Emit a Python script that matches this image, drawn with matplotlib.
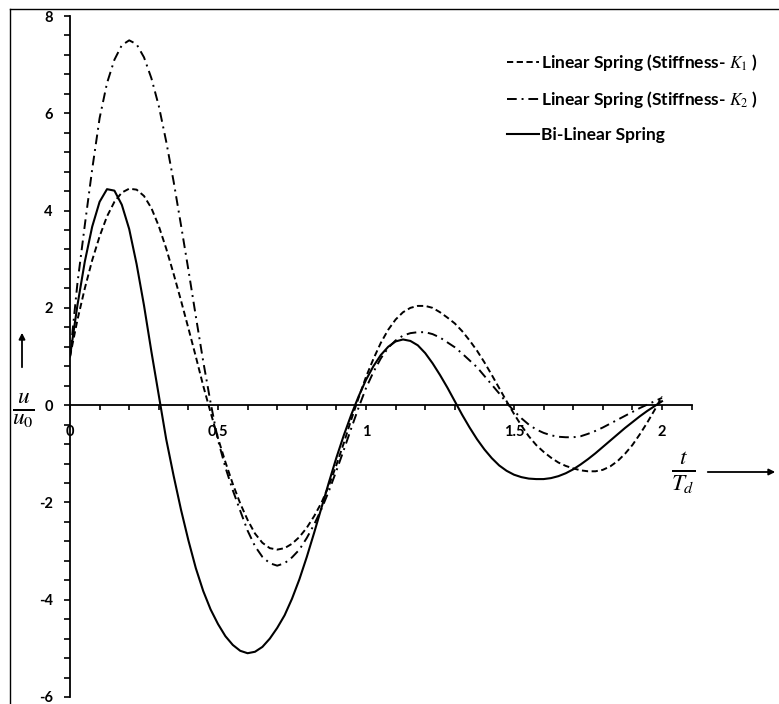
import matplotlib
matplotlib.use("Agg")
import matplotlib.pyplot as plt
from matplotlib.lines import Line2D
from matplotlib.ticker import MultipleLocator

plt.rcParams["font.family"] = ["Lato", "DejaVu Sans"]
plt.rcParams["mathtext.fontset"] = "stix"

# time ratio t/Td (0 .. 2 in steps of 0.025)
t = [round(0.025 * i, 3) for i in range(81)]

# displacement ratio u/u0
u_k1 = [1.00, 1.75, 2.40, 2.98, 3.47, 3.88, 4.18, 4.37, 4.45, 4.43,
        4.30, 4.05, 3.68, 3.22, 2.70, 2.15, 1.58, 1.00, 0.40, -0.15,
        -0.68, -1.17, -1.62, -2.02, -2.36, -2.64, -2.83, -2.94, -2.97, -2.94,
        -2.85, -2.71, -2.52, -2.28, -2.00, -1.65, -1.23, -0.78, -0.30, 0.15,
        0.58, 0.95, 1.28, 1.55, 1.76, 1.91, 2.00, 2.04, 2.04, 2.00,
        1.91, 1.80, 1.68, 1.52, 1.33, 1.12, 0.88, 0.62, 0.35, 0.08,
        -0.18, -0.42, -0.64, -0.82, -0.96, -1.08, -1.18, -1.25, -1.30, -1.34,
        -1.36, -1.36, -1.33, -1.26, -1.15, -1.00, -0.82, -0.60, -0.36, -0.10, 0.18]

u_k2 = [1.00, 2.50, 3.70, 4.85, 5.90, 6.62, 7.10, 7.40, 7.50, 7.42,
        7.15, 6.72, 6.15, 5.42, 4.60, 3.70, 2.78, 1.83, 0.90, 0.05,
        -0.72, -1.28, -1.75, -2.17, -2.58, -2.90, -3.12, -3.25, -3.30, -3.25,
        -3.13, -2.97, -2.73, -2.45, -2.13, -1.76, -1.35, -0.92, -0.48, -0.05,
        0.35, 0.68, 0.96, 1.18, 1.33, 1.43, 1.48, 1.50, 1.50, 1.46,
        1.39, 1.29, 1.19, 1.06, 0.92, 0.78, 0.60, 0.42, 0.24, 0.05,
        -0.12, -0.27, -0.40, -0.50, -0.57, -0.62, -0.65, -0.66, -0.66, -0.64,
        -0.59, -0.53, -0.46, -0.38, -0.30, -0.22, -0.14, -0.06, 0.01, 0.08, 0.15]

u_bilinear = [1.00, 2.05, 2.95, 3.67, 4.18, 4.44, 4.41, 4.12, 3.62, 2.90,
              2.05, 1.10, 0.20, -0.70, -1.45, -2.15, -2.78, -3.35, -3.82, -4.20,
              -4.50, -4.75, -4.93, -5.05, -5.10, -5.07, -4.97, -4.80, -4.58, -4.32,
              -3.98, -3.58, -3.12, -2.62, -2.10, -1.58, -1.08, -0.62, -0.20, 0.18,
              0.52, 0.80, 1.03, 1.20, 1.31, 1.35, 1.32, 1.23, 1.07, 0.86,
              0.62, 0.36, 0.08, -0.20, -0.46, -0.70, -0.91, -1.09, -1.24, -1.35,
              -1.43, -1.48, -1.51, -1.52, -1.52, -1.50, -1.46, -1.40, -1.32, -1.22,
              -1.11, -0.99, -0.86, -0.73, -0.60, -0.47, -0.35, -0.23, -0.12, -0.02, 0.08]

x_ticks = [0, 0.5, 1, 1.5, 2]
x_tick_labels = ["0", "0.5", "1", "1.5", "2"]
y_ticks = [-6, -4, -2, 0, 2, 4, 6, 8]

labels = [r"Linear Spring (Stiffness- $K_1$ )",
          r"Linear Spring (Stiffness- $K_2$ )",
          "Bi-Linear Spring"]

W, H = 779, 704
fig = plt.figure(figsize=(W / 100, H / 100), dpi=100)
ax = fig.add_axes([70 / W, 1 - 697 / H, (691.6 - 70) / W, (697 - 16) / H])

ax.plot(t, u_k1, color="black", lw=1.4, linestyle=(0, (3.2, 1.8)), label=labels[0])
ax.plot(t, u_k2, color="black", lw=1.4, linestyle=(0, (5, 2.5, 1, 2.5)), label=labels[1])
ax.plot(t, u_bilinear, color="black", lw=1.5, linestyle="-", label=labels[2])

ax.set_xlim(0, 2.1)
ax.set_ylim(-6, 8)

for side in ["top", "right"]:
    ax.spines[side].set_visible(False)
ax.spines["bottom"].set_position(("data", 0))
ax.spines["bottom"].set_linewidth(1.3)
ax.spines["left"].set_linewidth(1.3)

ax.set_xticks(x_ticks)
ax.set_xticklabels(x_tick_labels)
ax.xaxis.set_minor_locator(MultipleLocator(0.1))
ax.set_yticks(y_ticks)
ax.set_yticklabels([str(v) for v in y_ticks])
ax.yaxis.set_minor_locator(MultipleLocator(0.4))

ax.tick_params(axis="x", which="both", direction="out", length=3.5, width=1.2, pad=11)
ax.tick_params(axis="y", which="both", direction="out", length=4, width=1.2, pad=8.5)
for lab in ax.get_xticklabels() + ax.get_yticklabels():
    lab.set_fontsize(10.5)
    lab.set_fontweight("bold")

# axis titles as fractions with arrows
fig.text(23 / W, 1 - 410 / H, r"$\frac{u}{u_0}$", fontsize=24, ha="center", va="center")
fig.add_artist(plt.Annotation("", xy=(22 / W, 1 - 330 / H), xytext=(22 / W, 1 - 370 / H),
                              xycoords="figure fraction", textcoords="figure fraction",
                              arrowprops=dict(arrowstyle="-|>", color="black", lw=1.3,
                                              mutation_scale=9)))
fig.text(683 / W, 1 - 473 / H, r"$\frac{t}{T_d}$", fontsize=24, ha="center", va="center")
fig.add_artist(plt.Annotation("", xy=(778 / W, 1 - 472 / H), xytext=(705 / W, 1 - 472 / H),
                              xycoords="figure fraction", textcoords="figure fraction",
                              arrowprops=dict(arrowstyle="-|>", color="black", lw=1.3,
                                              mutation_scale=9)))

leg = ax.legend(loc="upper left", bbox_to_anchor=(491 / W, 1 - 36 / H),
                bbox_transform=fig.transFigure, frameon=False, handlelength=1.85,
                handletextpad=0.15, labelspacing=0.95, prop={"size": 12.5, "weight": "bold"})

# outer frame (left and top edges)
fig.add_artist(Line2D([10 / W, 10 / W], [0, 1 - 9 / H], transform=fig.transFigure,
                      color="black", lw=1))
fig.add_artist(Line2D([10 / W, 1], [1 - 9 / H, 1 - 9 / H], transform=fig.transFigure,
                      color="black", lw=1))

fig.savefig("out.png", dpi=100)
